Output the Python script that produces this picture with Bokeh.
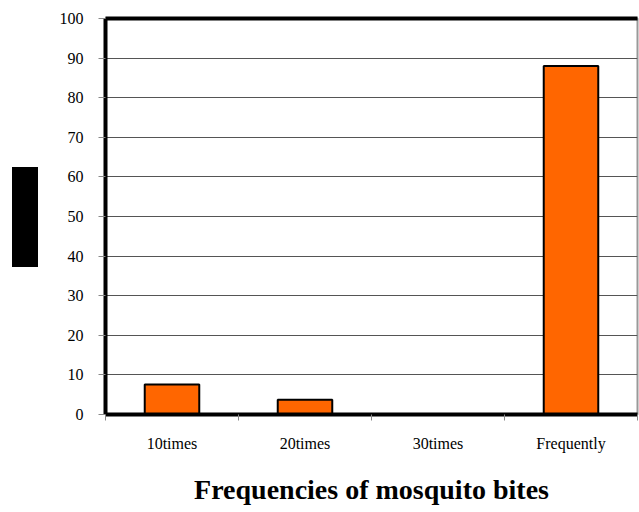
from bokeh.plotting import figure
from bokeh.models import Range1d, FixedTicker, LinearAxis, Div
from bokeh.layouts import column
from bokeh.embed import file_html
from bokeh.resources import INLINE

categories = ["10times", "20times", "30times", "Frequently"]
values = [7.6, 3.7, 0.0, 88.0]
y_ticks = [0, 10, 20, 30, 40, 50, 60, 70, 80, 90, 100]
x_title = "Frequencies of mosquito bites"

positions = [i + 0.5 for i in range(len(categories))]
boundaries = [i for i in range(len(categories) + 1)]

p = figure(width=639, height=512, output_backend="svg", toolbar_location=None,
           x_range=Range1d(0, len(categories)), y_range=Range1d(0, 100),
           min_border_left=105, min_border_right=2, min_border_top=18, min_border_bottom=98)
p.outline_line_color = "#999999"
p.outline_line_width = 2
p.background_fill_color = "white"

p.vbar(x=positions, top=values, width=0.41, bottom=0,
       fill_color="#FF6600", line_color="black", line_width=2)

# grid
p.xgrid.visible = False
p.ygrid.ticker = FixedTicker(ticks=y_ticks)
p.ygrid.grid_line_color = "#555555"
p.ygrid.grid_line_width = 1

# y axis
p.yaxis.ticker = FixedTicker(ticks=y_ticks)
p.yaxis.axis_line_color = "black"
p.yaxis.axis_line_width = 4
p.yaxis.major_tick_line_color = "#888888"
p.yaxis.major_tick_out = 7
p.yaxis.major_tick_in = 0
p.yaxis.minor_tick_line_color = None
p.yaxis.major_label_text_font = "Liberation Serif"
p.yaxis.major_label_text_font_size = "16px"
p.yaxis.major_label_text_color = "black"
p.yaxis.major_label_standoff = 15

# x axis
p.xaxis.ticker = FixedTicker(ticks=positions, minor_ticks=boundaries)
p.xaxis.major_label_overrides = {pos: lab for pos, lab in zip(positions, categories)}
p.xaxis.axis_line_color = "black"
p.xaxis.axis_line_width = 4
p.xaxis.major_tick_line_color = None
p.xaxis.major_tick_out = 0
p.xaxis.major_tick_in = 0
p.xaxis.minor_tick_line_color = "#888888"
p.xaxis.minor_tick_out = 6
p.xaxis.minor_tick_in = 0
p.xaxis.major_label_text_font = "Liberation Serif"
p.xaxis.major_label_text_font_size = "16px"
p.xaxis.major_label_text_color = "black"
p.xaxis.major_label_standoff = 14
p.xaxis.axis_label = x_title
p.xaxis.axis_label_text_font = "Liberation Serif"
p.xaxis.axis_label_text_font_size = "28px"
p.xaxis.axis_label_text_font_style = "bold"
p.xaxis.axis_label_text_color = "black"
p.xaxis.axis_label_standoff = 19

# top frame border as a plain axis with no ticks
top_axis = LinearAxis(ticker=FixedTicker(ticks=[]), axis_line_color="black", axis_line_width=4,
                      major_tick_line_color=None, minor_tick_line_color=None)
p.add_layout(top_axis, "above")

# redacted y-axis title block (solid black box left of the axis)
box = Div(text="", width=26, height=100,
          styles={"position": "absolute", "left": "7px", "top": "162px",
                  "background-color": "black"})

layout = column(p, box)
open("out.html", "w").write(file_html(layout, INLINE))
